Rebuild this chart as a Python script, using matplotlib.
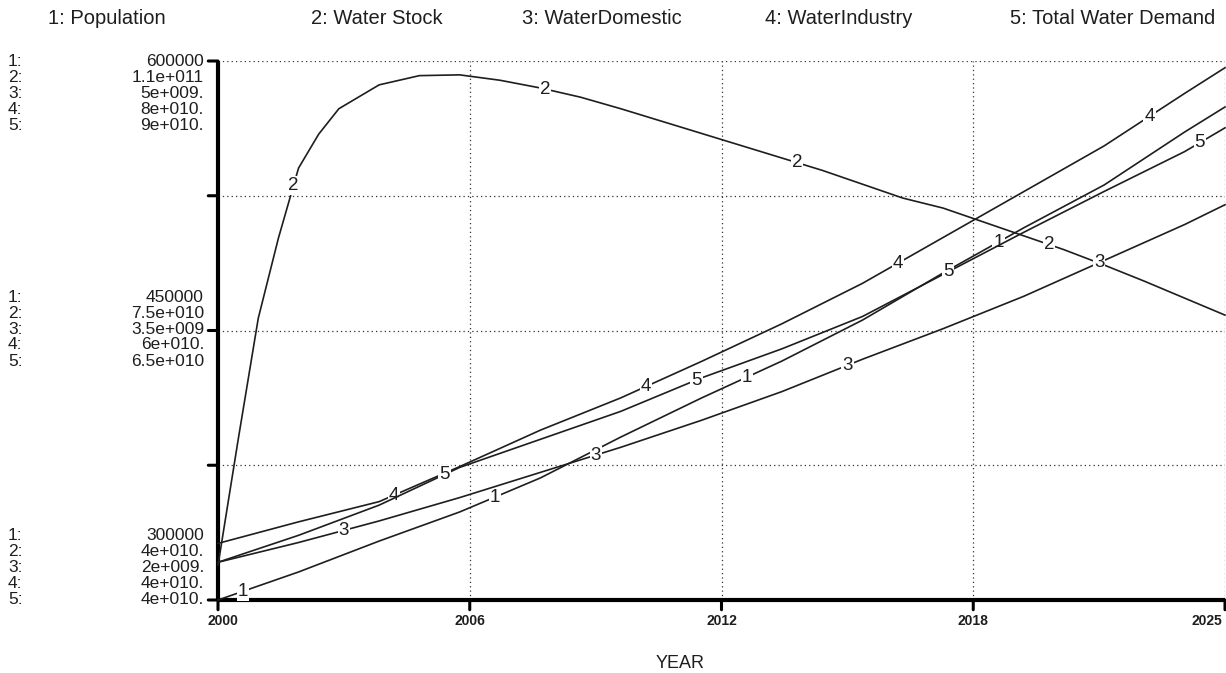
import numpy as np
import matplotlib
matplotlib.use("Agg")
import matplotlib.pyplot as plt

# ---------------- data ----------------
years = [2000, 2002, 2004, 2006, 2008, 2010, 2012, 2014, 2016, 2018, 2020, 2022, 2024, 2025]

population = [300000, 315600, 332800, 349000, 367900, 390700, 412400, 433000,
              455800, 482000, 507100, 531000, 560500, 574400]
water_domestic = [2.21e9, 2.32e9, 2.44e9, 2.57e9, 2.71e9, 2.85e9, 3.00e9, 3.16e9,
                  3.34e9, 3.51e9, 3.69e9, 3.89e9, 4.09e9, 4.20e9]
water_industry = [4.42e10, 4.58e10, 4.73e10, 4.99e10, 5.26e10, 5.50e10, 5.77e10, 6.05e10,
                  6.35e10, 6.69e10, 7.03e10, 7.37e10, 7.76e10, 7.95e10]
total_demand = [4.35e10, 4.60e10, 4.88e10, 5.23e10, 5.49e10, 5.75e10, 6.06e10, 6.33e10,
                6.63e10, 7.02e10, 7.41e10, 7.79e10, 8.16e10, 8.38e10]

stock_years = [2000, 2000.5, 2001, 2001.5, 2002, 2002.5, 2003, 2004, 2005, 2006, 2007, 2008,
               2009, 2010, 2011, 2012, 2013, 2014, 2015, 2016, 2017, 2018, 2019,
               2020, 2021, 2022, 2023, 2024, 2025]
water_stock = [4.45e10, 6.08e10, 7.66e10, 8.70e10, 9.61e10, 1.005e11, 1.038e11, 1.069e11,
               1.081e11, 1.082e11, 1.075e11, 1.065e11, 1.053e11, 1.038e11, 1.022e11,
               1.006e11, 9.90e10, 9.74e10, 9.58e10, 9.40e10, 9.22e10, 9.09e10, 8.91e10,
               8.73e10, 8.55e10, 8.35e10, 8.14e10, 7.92e10, 7.70e10]

series_names = ["Population", "Water Stock", "WaterDomestic", "WaterIndustry", "Total Water Demand"]
scale_low = [300000, 4e10, 2e9, 4e10, 4e10]
scale_high = [600000, 1.1e11, 5e9, 8e10, 9e10]

labels_top = ["600000", "1.1e+011", "5e+009.", "8e+010.", "9e+010."]
labels_mid = ["450000", "7.5e+010", "3.5e+009", "6e+010.", "6.5e+010"]
labels_bot = ["300000", "4e+010.", "2e+009.", "4e+010.", "4e+010."]

x_tick_labels = ["2000", "2006", "2012", "2018", "2025"]
x_label = "YEAR"

# ---------------- figure ----------------
W, H = 1226, 673
FONT = "Liberation Sans"
INK = "#1e1e1e"
fig = plt.figure(figsize=(W / 100, H / 100), dpi=100)
fig.patch.set_facecolor("white")

L, R, T, B = 218, 1225, 61, 600


def fx(px):
    return px / W


def fy(py):
    return 1 - py / H


rect = [fx(L), fy(B), fx(R) - fx(L), fy(T) - fy(B)]
ax = fig.add_axes(rect)
ax.set_xlim(2000, 2025)
ax.set_ylim(0, 1)
ax.set_facecolor("none")
for s in ax.spines.values():
    s.set_visible(False)
ax.set_xticks([])
ax.set_yticks([])

grid_x = np.linspace(2000, 2025, 5)
grid_y = np.linspace(0, 1, 5)
dot = (0, (1, 2.5))
for gx in grid_x[1:]:
    ax.plot([gx, gx], [0, 1], color="#333333", lw=0.9, ls=dot, zorder=1)
for gy in grid_y[1:]:
    ax.plot([2000, 2025], [gy, gy], color="#333333", lw=0.9, ls=dot, zorder=1)

# axes lines
ax.plot([2000, 2025], [0, 0], color="black", lw=3, zorder=5, solid_capstyle="butt", clip_on=False)
ax.plot([2000, 2000], [0, 1], color="black", lw=3, zorder=5, solid_capstyle="butt", clip_on=False)
# ticks
for gx in grid_x:
    ax.annotate("", xy=(gx, 0), xytext=(0, -7), textcoords="offset points",
                arrowprops=dict(arrowstyle="-", lw=2.2, color="black", shrinkA=0, shrinkB=0),
                annotation_clip=False)
for gy in grid_y:
    ax.annotate("", xy=(2000, gy), xytext=(-7, 0), textcoords="offset points",
                arrowprops=dict(arrowstyle="-", lw=2.2, color="black", shrinkA=0, shrinkB=0),
                annotation_clip=False)

# ---------------- series ----------------
all_x = [years, stock_years, years, years, years]
all_y = [population, water_stock, water_domestic, water_industry, total_demand]

for k in range(5):
    a = fig.add_axes(rect)
    a.set_facecolor("none")
    a.set_axis_off()
    a.set_xlim(2000, 2025)
    a.set_ylim(scale_low[k], scale_high[k])
    a.plot(all_x[k], all_y[k], color=INK, lw=1.2, zorder=3, clip_on=False)
    for j in range(4):
        t = 2000 + 0.625 * (2 * k + 1) + 6.25 * j
        v = np.interp(t, all_x[k], all_y[k])
        a.text(t, v, str(k + 1), ha="center", va="center", fontsize=13.5,
               family=FONT, color=INK, zorder=4,
               bbox=dict(boxstyle="square,pad=0.05", fc="white", ec="none"))

# ---------------- header ----------------
header_x = [48, 311, 522, 765, 1010]
for k in range(5):
    fig.text(fx(header_x[k]), fy(19), f"{k + 1}: {series_names[k]}", ha="left", va="center",
             fontsize=14.5, family=FONT, color=INK)

# ---------------- y labels ----------------
row_gap = 16
groups = [(61, 0, labels_top), (329, 2, labels_mid), (600, 4, labels_bot)]
for anchor, idx, labs in groups:
    for i in range(5):
        py = anchor + (i - idx) * row_gap
        fig.text(fx(8), fy(py), f"{i + 1}:", ha="left", va="center", fontsize=12.5,
                 family=FONT, color=INK)
        fig.text(fx(204), fy(py), labs[i], ha="right", va="center", fontsize=12.5,
                 family=FONT, color=INK)

# ---------------- x labels ----------------
for i, gx in enumerate(grid_x):
    ha = "center"
    off = 0
    if i == 0:
        ha, off = "left", -10
    elif i == len(grid_x) - 1:
        ha, off = "right", -3
    ax.annotate(x_tick_labels[i], xy=(gx, 0), xytext=(off, -14), textcoords="offset pixels",
                ha=ha, va="top", fontsize=10, fontweight="bold", family=FONT,
                color=INK, annotation_clip=False)
fig.text(fx(680), fy(663), x_label, ha="center", va="center", fontsize=13,
         family=FONT, color=INK)

fig.savefig("out.png", dpi=100, facecolor="white")
